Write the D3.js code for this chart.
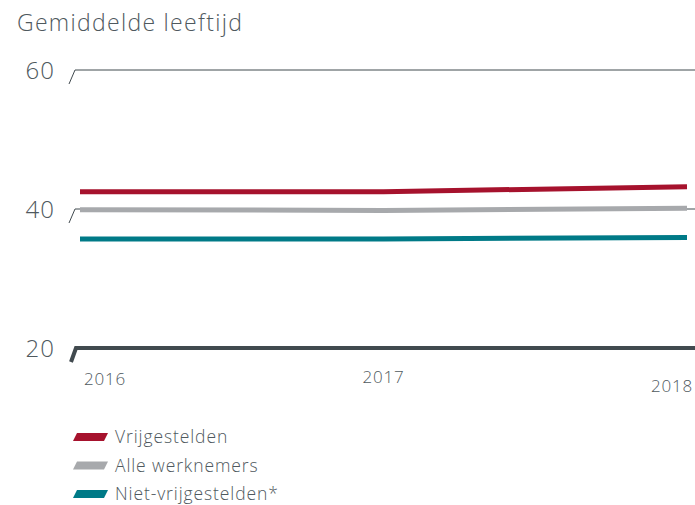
<!DOCTYPE html>
<html><head><meta charset="utf-8">
<script src="https://cdn.jsdelivr.net/npm/d3@7"></script>
<style>
body{margin:0;background:#fff;}
text{font-family:"Open Sans",sans-serif;font-weight:300;fill:#4f595e;}
</style></head>
<body><svg id="c" width="695" height="505"></svg>
<script>
const years = ["2016","2017","2018"];
const seriesNames = ["Vrijgestelden","Alle werknemers","Niet-vrijgestelden*"];
const vrijgestelden = [42.5, 42.5, 43.2];
const alleWerknemers = [39.9, 39.8, 40.1];
const nietVrijgestelden = [35.7, 35.7, 35.9];
const yTicks = [20, 40, 60];
const colors = ["#a6122d", "#a7a9ac", "#007a87"];

const svg = d3.select("#c");
const x = d3.scalePoint().domain(years).range([80, 687]);
const y = d3.scaleLinear().domain([20, 60]).range([348, 70]);

svg.append("text").attr("x", 17).attr("y", 31).attr("font-size", 23)
  .attr("letter-spacing", 1.3).text("Gemiddelde leeftijd");

// gridlines with slanted start
yTicks.forEach(t => {
  const yy = y(t);
  const base = t === 20;
  svg.append("path")
    .attr("d", `M${base?71:69},${yy+14}L${base?76:75},${yy}L695,${yy}`)
    .attr("fill", "none")
    .attr("stroke", "#414a4f")
    .attr("stroke-width", base ? 4 : 1);
  svg.append("text").attr("x", 55).attr("y", yy + 9)
    .attr("text-anchor", "end").attr("font-size", 24).attr("letter-spacing", 1).text(t);
});

// x labels
const xl = [{a:"start",dx:4,dy:37},{a:"middle",dx:0,dy:35},{a:"end",dx:6,dy:44}];
years.forEach((yr, i) => {
  svg.append("text").attr("x", x(yr) + xl[i].dx).attr("y", y(20) + xl[i].dy)
    .attr("text-anchor", xl[i].a).attr("font-size", 17).attr("letter-spacing", 0.8).text(yr);
});

const data = [vrijgestelden, alleWerknemers, nietVrijgestelden];
const line = d3.line().x((d, i) => x(years[i])).y(d => y(d));
data.forEach((s, k) => {
  svg.append("path").datum(s).attr("d", line)
    .attr("fill", "none").attr("stroke", colors[k]).attr("stroke-width", 5);
});

// legend
seriesNames.forEach((n, k) => {
  const ly = 437 + k * 28.5;
  svg.append("path")
    .attr("d", `M73,${ly+4}L104,${ly+4}L108,${ly-4}L77,${ly-4}Z`)
    .attr("fill", colors[k]);
  svg.append("text").attr("x", 115).attr("y", ly + 6).attr("font-size", 17.5)
    .attr("letter-spacing", 0.9).text(n);
});
</script></body></html>
